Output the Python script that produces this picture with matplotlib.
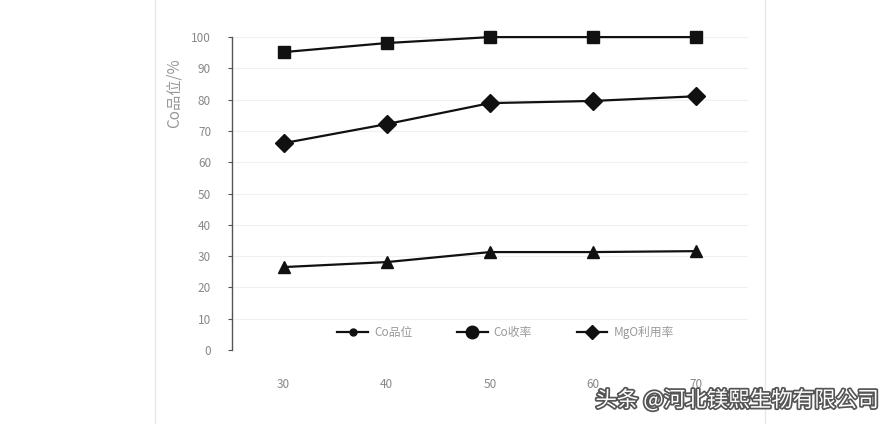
import matplotlib.pyplot as plt
from matplotlib.lines import Line2D
import matplotlib.patheffects as pe

plt.rcParams['font.family'] = ['Noto Sans CJK SC', 'DejaVu Sans']

x = [30, 40, 50, 60, 70]
co_grade = [26.5, 28.1, 31.3, 31.3, 31.6]
co_recovery = [95.2, 98.1, 100, 100, 100]
mgo_use = [66.1, 72.2, 78.9, 79.6, 81.1]
legend_labels = ['Co品位', 'Co收率', 'MgO利用率']
ylabel = 'Co品位/%'
yticks = list(range(0, 101, 10))

fig = plt.figure(figsize=(8.92, 4.24), dpi=100)
ax = fig.add_axes([0.26, 0.1745, 0.5786, 0.738])

ax.plot(x, co_recovery, color='#111111', lw=1.6, marker='s', ms=9, clip_on=False)
ax.plot(x, mgo_use, color='#111111', lw=1.6, marker='D', ms=9, clip_on=False)
ax.plot(x, co_grade, color='#111111', lw=1.6, marker='^', ms=9, clip_on=False)

ax.set_xlim(25, 75)
ax.set_ylim(0, 100)
ax.set_xticks(x)
ax.set_yticks(yticks)
ax.yaxis.grid(True, color='#f0f0f0', lw=0.8)
ax.set_axisbelow(True)
for s in ['top', 'right', 'bottom']:
    ax.spines[s].set_visible(False)
ax.spines['left'].set_color('#555555')
ax.spines['left'].set_linewidth(1.0)
ax.tick_params(axis='y', length=3, color='#555555', labelsize=8.5, labelcolor='#888888', pad=12)
ax.tick_params(axis='x', length=0, labelsize=8.5, labelcolor='#888888', pad=20)
ax.set_ylabel(ylabel, color='#999999', fontsize=11, labelpad=8)
ax.yaxis.set_label_coords(-0.095, 0.82)

handles = [
    Line2D([], [], color='#111111', lw=1.6, marker='o', ms=5),
    Line2D([], [], color='#111111', lw=1.6, marker='o', ms=9),
    Line2D([], [], color='#111111', lw=1.6, marker='D', ms=7),
]
leg = ax.legend(handles, legend_labels, loc='lower center', bbox_to_anchor=(0.53, 0.0),
                ncol=3, frameon=False, fontsize=8.5, handlelength=2.6, columnspacing=3.8,
                handletextpad=0.5)
for t in leg.get_texts():
    t.set_color('#999999')

# faint border lines of the screenshot
fig.add_artist(Line2D([155 / 892, 155 / 892], [0, 1], color='#e8e8e8', lw=1))
fig.add_artist(Line2D([765 / 892, 765 / 892], [0, 1], color='#e8e8e8', lw=1))

fig.text(0.985, 0.055, '头条 @河北镁熙生物有限公司', ha='right', va='center', fontsize=15.5,
         color='white', path_effects=[pe.withStroke(linewidth=2.5, foreground='#555555')])

fig.savefig('out.png', dpi=100)
